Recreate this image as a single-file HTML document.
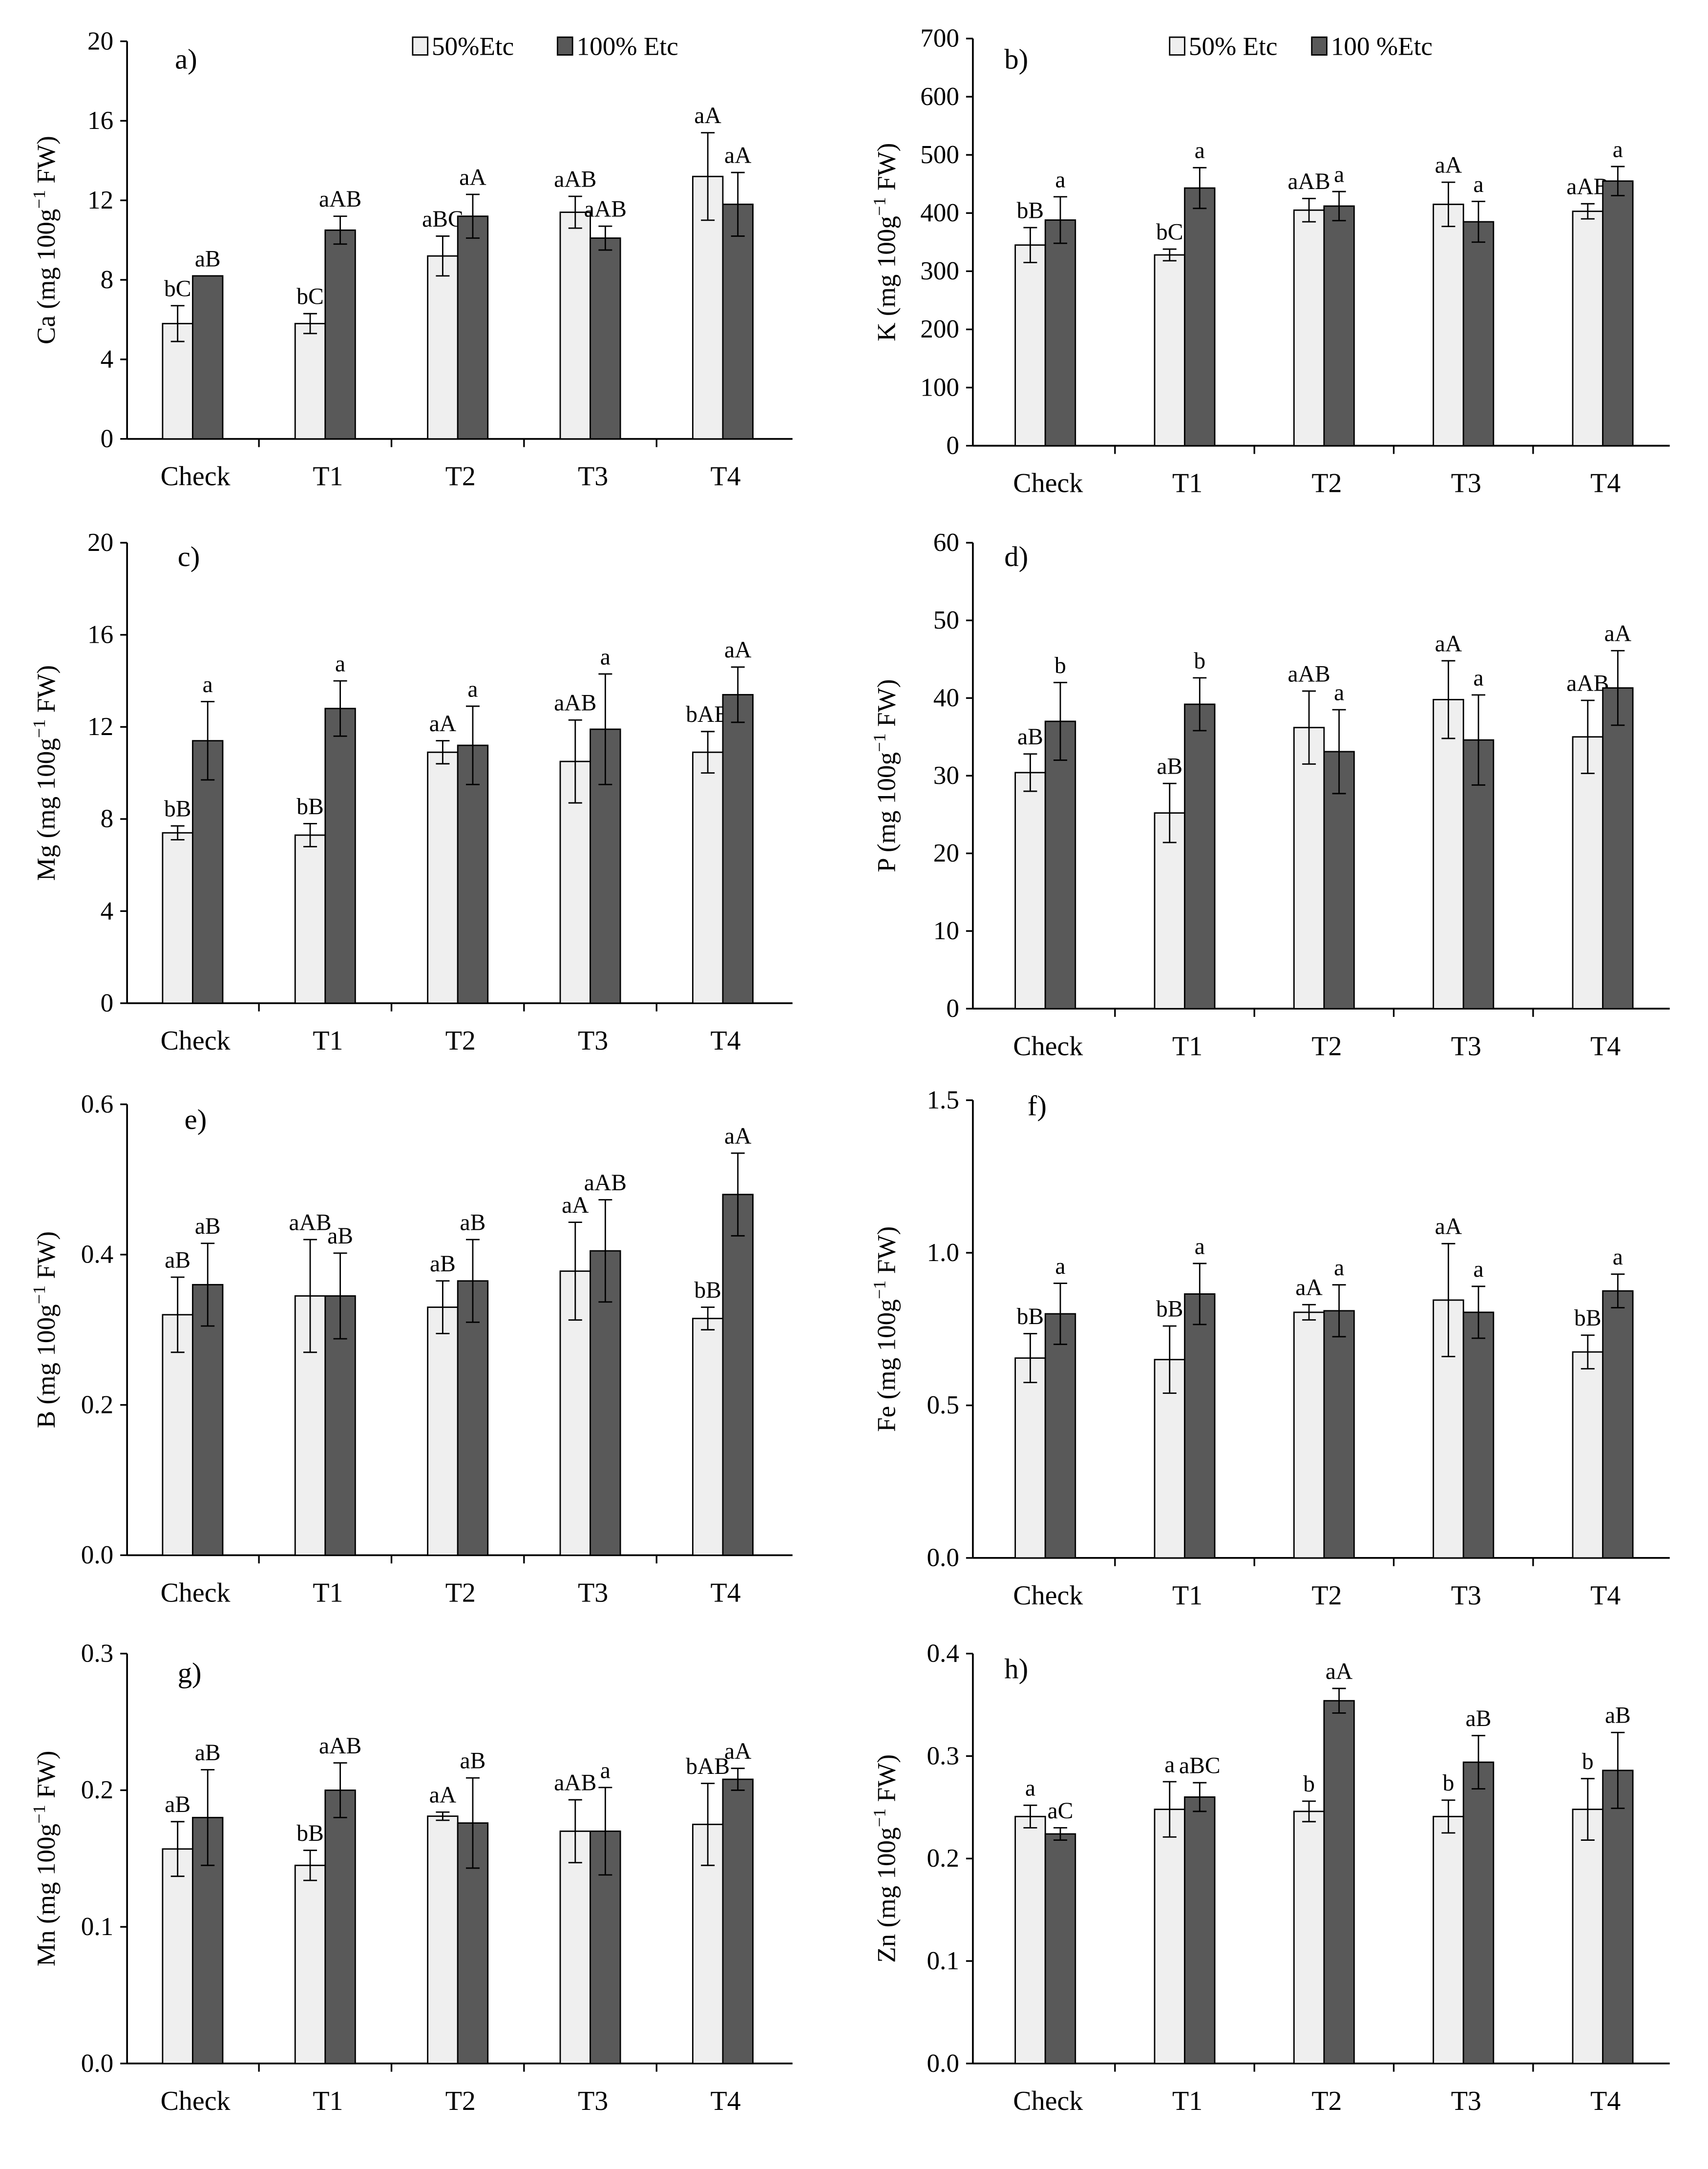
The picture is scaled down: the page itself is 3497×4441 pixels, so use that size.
<!DOCTYPE html>
<html><head><meta charset="utf-8"><style>
html,body{margin:0;padding:0;background:#fff}
svg{display:block}
text{font-family:"Liberation Serif",serif;fill:#000}
</style></head><body>
<svg id="fig" width="3497" height="4441" viewBox="0 0 1250 1587" xmlns="http://www.w3.org/2000/svg"></svg>
<script>
const categories = ["Check","T1","T2","T3","T4"];
// a) Ca
const caLight=[5.8,5.8,9.2,11.4,13.2], caLightErr=[0.9,0.5,1.0,0.8,2.2];
const caDark=[8.2,10.5,11.2,10.1,11.8], caDarkErr=[0,0.7,1.1,0.6,1.6];
const caLightLbl=["bC","bC","aBC","aAB","aA"], caDarkLbl=["aB","aAB","aA","aAB","aA"];
const caTicks=[0,4,8,12,16,20];
// b) K
const kLight=[345,328,405,415,403], kLightErr=[30,10,20,38,13];
const kDark=[388,443,412,385,455], kDarkErr=[40,35,25,35,25];
const kLightLbl=["bB","bC","aAB","aA","aAB"], kDarkLbl=["a","a","a","a","a"];
const kTicks=[0,100,200,300,400,500,600,700];
// c) Mg
const mgLight=[7.4,7.3,10.9,10.5,10.9], mgLightErr=[0.3,0.5,0.5,1.8,0.9];
const mgDark=[11.4,12.8,11.2,11.9,13.4], mgDarkErr=[1.7,1.2,1.7,2.4,1.2];
const mgLightLbl=["bB","bB","aA","aAB","bAB"], mgDarkLbl=["a","a","a","a","aA"];
const mgTicks=[0,4,8,12,16,20];
// d) P
const pLight=[30.4,25.2,36.2,39.8,35], pLightErr=[2.4,3.8,4.7,5,4.7];
const pDark=[37,39.2,33.1,34.6,41.3], pDarkErr=[5,3.4,5.4,5.8,4.8];
const pLightLbl=["aB","aB","aAB","aA","aAB"], pDarkLbl=["b","b","a","a","aA"];
const pTicks=[0,10,20,30,40,50,60];
// e) B
const bLight=[0.32,0.345,0.33,0.378,0.315], bLightErr=[0.05,0.075,0.035,0.065,0.015];
const bDark=[0.36,0.345,0.365,0.405,0.48], bDarkErr=[0.055,0.057,0.055,0.068,0.055];
const bLightLbl=["aB","aAB","aB","aA","bB"], bDarkLbl=["aB","aB","aB","aAB","aA"];
const bTicks=[0,0.2,0.4,0.6];
// f) Fe
const feLight=[0.655,0.65,0.805,0.845,0.675], feLightErr=[0.08,0.11,0.025,0.185,0.055];
const feDark=[0.80,0.865,0.81,0.805,0.875], feDarkErr=[0.1,0.1,0.085,0.085,0.055];
const feLightLbl=["bB","bB","aA","aA","bB"], feDarkLbl=["a","a","a","a","a"];
const feTicks=[0,0.5,1.0,1.5];
// g) Mn
const mnLight=[0.157,0.145,0.181,0.17,0.175], mnLightErr=[0.02,0.011,0.003,0.023,0.03];
const mnDark=[0.18,0.2,0.176,0.17,0.208], mnDarkErr=[0.035,0.02,0.033,0.032,0.008];
const mnLightLbl=["aB","bB","aA","aAB","bAB"], mnDarkLbl=["aB","aAB","aB","a","aA"];
const mnTicks=[0,0.1,0.2,0.3];
// h) Zn
const znLight=[0.241,0.248,0.246,0.241,0.248], znLightErr=[0.011,0.027,0.01,0.016,0.03];
const znDark=[0.224,0.26,0.354,0.294,0.286], znDarkErr=[0.006,0.014,0.012,0.026,0.037];
const znLightLbl=["a","a","b","b","b"], znDarkLbl=["aC","aBC","aA","aB","aB"];
const znTicks=[0,0.1,0.2,0.3,0.4];

const svg=document.getElementById('fig');
const NS="http://www.w3.org/2000/svg";
function mk(tag,attrs,parent,txt){const e=document.createElementNS(NS,tag);for(const k in attrs)e.setAttribute(k,attrs[k]);if(txt!==undefined)e.textContent=txt;(parent||svg).appendChild(e);return e;}

function panel(cfg){
  const g=mk('g',{});
  
  
  const max=cfg.ticks[cfg.ticks.length-1];
  const y=v=>cfg.bottom-(v/max)*(cfg.bottom-cfg.top);
  const xc=i=>cfg.x0+i*cfg.step;
  const bw=22;
  // axes
  const ya=mk('line',{x1:cfg.axX,y1:cfg.top,x2:cfg.axX,y2:cfg.bottom,stroke:'#000','stroke-width':1.3},g);
  
  const xa=mk('line',{x1:cfg.axX,y1:cfg.bottom,x2:cfg.axEnd,y2:cfg.bottom,stroke:'#000','stroke-width':1.3},g);
  
  cfg.ticks.forEach(t=>{
    mk('line',{x1:cfg.axX-5,y1:y(t),x2:cfg.axX,y2:y(t),stroke:'#000','stroke-width':1.2},g);
    const tl=mk('text',{x:cfg.axX-10,y:y(t)+6,'text-anchor':'end','font-size':19},g,cfg.fmt(t));
    
  });
  for(let i=0;i<=categories.length;i++){
    const xx=cfg.axX+i*cfg.step+ (i===0?0:0);
  }
  categories.forEach((c,i)=>{
    const bx=cfg.axX+(i+1)*cfg.step;
    if(i<categories.length-1) mk('line',{x1:(xc(i)+xc(i+1))/2,y1:cfg.bottom,x2:(xc(i)+xc(i+1))/2,y2:cfg.bottom+6,stroke:'#000','stroke-width':1.2},g);
    const cl=mk('text',{x:xc(i)+2,y:cfg.bottom+34,'text-anchor':'middle','font-size':20},g,c);
    
    [[cfg.light,cfg.lightErr,cfg.lightLbl,'#efefef',xc(i)-bw,'light'],[cfg.dark,cfg.darkErr,cfg.darkLbl,'#595959',xc(i),'dark']].forEach(([vals,errs,lbls,fill,x,kind])=>{
      const v=vals[i],e=errs[i];
      const r=mk('rect',{x:x,y:y(v),width:bw,height:cfg.bottom-y(v),fill:fill,stroke:'#000','stroke-width':1},g);
      
      
      const cx=x+bw/2;
      if(e>0){
        mk('line',{x1:cx,y1:y(v-e),x2:cx,y2:y(v+e),stroke:'#000','stroke-width':1},g);
        mk('line',{x1:cx-5,y1:y(v+e),x2:cx+5,y2:y(v+e),stroke:'#000','stroke-width':1},g);
        mk('line',{x1:cx-5,y1:y(v-e),x2:cx+5,y2:y(v-e),stroke:'#000','stroke-width':1},g);
      }
      const lt=mk('text',{x:cx,y:y(v+e)-7,'text-anchor':'middle','font-size':cfg.lblSize||17},g,lbls[i]);
      
    });
  });
  const midY=(cfg.top+cfg.bottom)/2;
  const yt=mk('text',{x:cfg.titleX,y:midY,'text-anchor':'middle','font-size':19,transform:`rotate(-90 ${cfg.titleX} ${midY})`},g);
  
  mk('tspan',{},yt,cfg.el+' (mg 100g');
  mk('tspan',{'baseline-shift':'super','font-size':13},yt,'−1');
  mk('tspan',{},yt,' FW)');
  const pl=mk('text',{x:cfg.letter[0],y:cfg.letter[1],'font-size':21},g,cfg.id+')');
  
  if(cfg.legend){
    const L=cfg.legend;
    const lg=mk('g',{},g);
    
    mk('rect',{x:L[0],y:L[1]-13,width:11,height:13,fill:'#efefef',stroke:'#000'},lg);
    mk('text',{x:L[0]+14,y:L[1],'font-size':19},lg,L[2]);
    mk('rect',{x:L[3],y:L[1]-13,width:11,height:13,fill:'#595959',stroke:'#000'},lg);
    mk('text',{x:L[3]+14,y:L[1],'font-size':19},lg,L[4]);
  }
}
const f0=t=>String(t), f1=t=>t.toFixed(1);
const L={axX:93,axEnd:580,x0:141,step:97,titleX:40};
const R={axX:712,axEnd:1222,x0:765,step:102,titleX:655};
panel({...L,id:'a',el:'Ca',top:30,bottom:321,ticks:caTicks,fmt:f0,light:caLight,lightErr:caLightErr,dark:caDark,darkErr:caDarkErr,lightLbl:caLightLbl,darkLbl:caDarkLbl,letter:[128,50],legend:[302,40,'50%Etc',408,'100% Etc']});
panel({...R,id:'b',el:'K',top:28,bottom:326,ticks:kTicks,fmt:f0,light:kLight,lightErr:kLightErr,dark:kDark,darkErr:kDarkErr,lightLbl:kLightLbl,darkLbl:kDarkLbl,letter:[735,50],legend:[856,40,'50% Etc',960,'100 %Etc']});
panel({...L,id:'c',el:'Mg',top:397,bottom:734,ticks:mgTicks,fmt:f0,light:mgLight,lightErr:mgLightErr,dark:mgDark,darkErr:mgDarkErr,lightLbl:mgLightLbl,darkLbl:mgDarkLbl,letter:[130,414]});
panel({...R,id:'d',el:'P',top:397,bottom:738,ticks:pTicks,fmt:f0,light:pLight,lightErr:pLightErr,dark:pDark,darkErr:pDarkErr,lightLbl:pLightLbl,darkLbl:pDarkLbl,letter:[735,414]});
panel({...L,id:'e',el:'B',top:808,bottom:1138,ticks:bTicks,fmt:f1,light:bLight,lightErr:bLightErr,dark:bDark,darkErr:bDarkErr,lightLbl:bLightLbl,darkLbl:bDarkLbl,letter:[135,826]});
panel({...R,id:'f',el:'Fe',top:805,bottom:1140,ticks:feTicks,fmt:f1,light:feLight,lightErr:feLightErr,dark:feDark,darkErr:feDarkErr,lightLbl:feLightLbl,darkLbl:feDarkLbl,letter:[752,816]});
panel({...L,id:'g',el:'Mn',top:1210,bottom:1510,ticks:mnTicks,fmt:f1,light:mnLight,lightErr:mnLightErr,dark:mnDark,darkErr:mnDarkErr,lightLbl:mnLightLbl,darkLbl:mnDarkLbl,letter:[130,1231]});
panel({...R,id:'h',el:'Zn',top:1210,bottom:1510,ticks:znTicks,fmt:f1,light:znLight,lightErr:znLightErr,dark:znDark,darkErr:znDarkErr,lightLbl:znLightLbl,darkLbl:znDarkLbl,letter:[735,1228]});
</script>
</body></html>
